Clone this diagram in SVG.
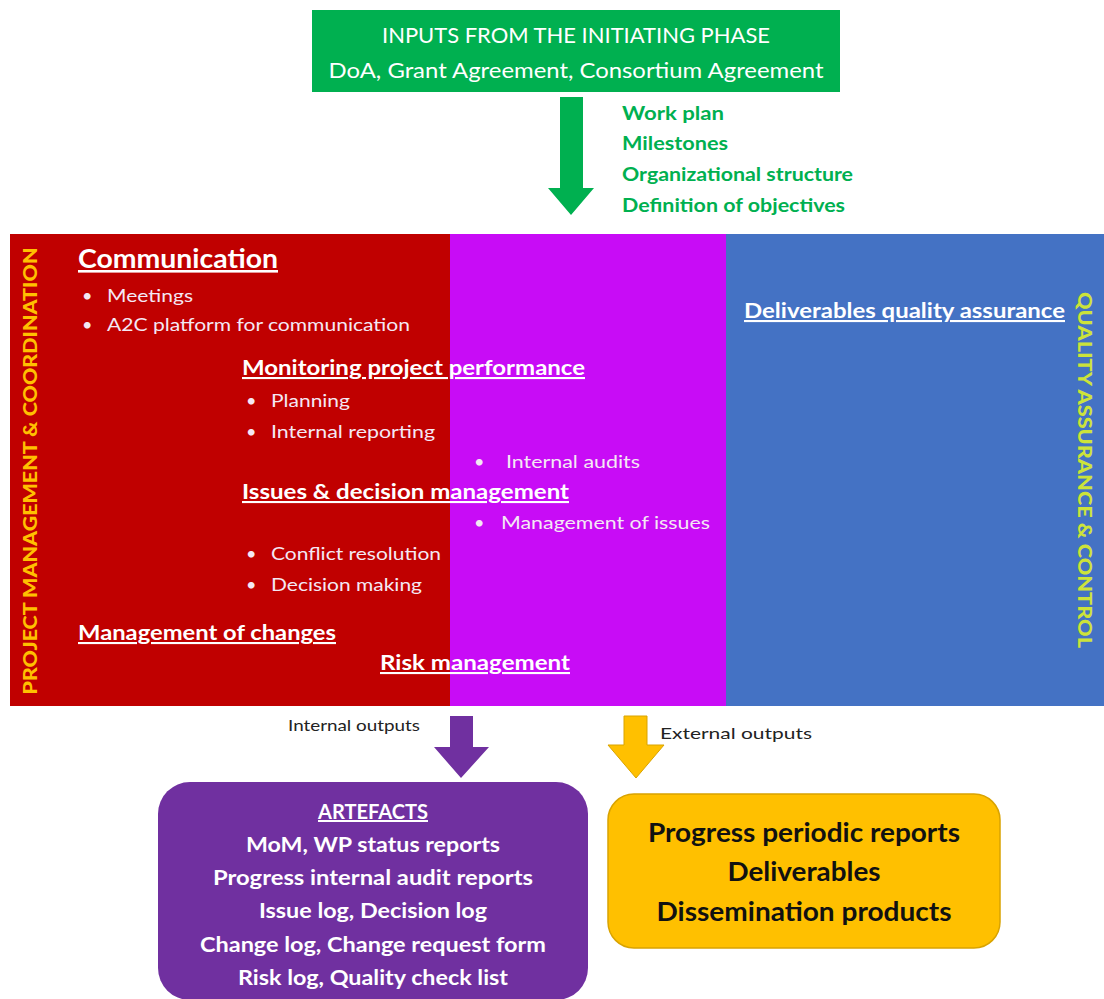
<svg xmlns="http://www.w3.org/2000/svg" width="1104" height="999" viewBox="0 0 1104 999">
<style>
text{font-family:Lato,"Liberation Sans",sans-serif;}
.w{fill:#ffffff;}
.b{font-weight:bold;}
.u{text-decoration:underline;}
.h{font-size:21px;font-weight:bold;fill:#ffffff;text-decoration:underline;}
.bl{font-size:18px;fill:#f4e8f4;}
.g{font-size:19px;font-weight:bold;fill:#00B050;}
.art{font-size:21px;font-weight:bold;fill:#ffffff;text-anchor:middle;}
.out{font-size:26px;font-weight:bold;fill:#111111;text-anchor:middle;}
.lbl{font-size:16px;fill:#222222;}
.vt{font-size:19px;font-weight:900;text-anchor:middle;}
</style>
<rect width="1104" height="999" fill="#ffffff"/>
<g id="inputs">
<rect x="312" y="10" width="528" height="82" fill="#00B050"/>
<text x="576" y="43" class="w" font-size="22" text-anchor="middle" textLength="388" lengthAdjust="spacingAndGlyphs">INPUTS FROM THE INITIATING PHASE</text>
<text x="576" y="78" class="w" font-size="22" text-anchor="middle" textLength="495" lengthAdjust="spacingAndGlyphs">DoA, Grant Agreement, Consortium Agreement</text>
</g>
<g id="input-items">
<text x="622" y="120" class="g" textLength="102" lengthAdjust="spacingAndGlyphs">Work plan</text>
<text x="622" y="150" class="g" textLength="106" lengthAdjust="spacingAndGlyphs">Milestones</text>
<text x="622" y="181" class="g" textLength="231" lengthAdjust="spacingAndGlyphs">Organizational structure</text>
<text x="622" y="212" class="g" textLength="223" lengthAdjust="spacingAndGlyphs">Definition of objectives</text>
</g>
<g id="panel">
<rect x="10" y="234" width="440" height="472" fill="#C00000"/>
<rect x="450" y="234" width="276" height="472" fill="#C80CF6"/>
<rect x="726" y="234" width="378" height="472" fill="#4472C4"/>
<text x="37" y="471" transform="rotate(-90 37 471)" class="vt" fill="#FFC000" textLength="447" lengthAdjust="spacingAndGlyphs">PROJECT MANAGEMENT &amp; COORDINATION</text>
<text x="1078" y="470" transform="rotate(90 1078 470)" class="vt" fill="#CCE33A" textLength="356" lengthAdjust="spacingAndGlyphs">QUALITY ASSURANCE &amp; CONTROL</text>
</g>
<g id="communication">
<text x="78" y="268" class="h" style="font-size:26px" textLength="200" lengthAdjust="spacingAndGlyphs">Communication</text>
<text x="82" y="302" class="bl">•</text><text x="107" y="302" class="bl" textLength="86" lengthAdjust="spacingAndGlyphs">Meetings</text>
<text x="82" y="331" class="bl">•</text><text x="107" y="331" class="bl" textLength="303" lengthAdjust="spacingAndGlyphs">A2C platform for communication</text>
</g>
<g id="monitoring">
<text x="242" y="375" class="h" textLength="343" lengthAdjust="spacingAndGlyphs">Monitoring project performance</text>
<text x="246" y="407" class="bl">•</text><text x="271" y="407" class="bl" textLength="79" lengthAdjust="spacingAndGlyphs">Planning</text>
<text x="246" y="438" class="bl">•</text><text x="271" y="438" class="bl" textLength="164" lengthAdjust="spacingAndGlyphs">Internal reporting</text>
<text x="474" y="468" class="bl">•</text><text x="506" y="468" class="bl" textLength="134" lengthAdjust="spacingAndGlyphs">Internal audits</text>
</g>
<g id="issues">
<text x="242" y="499" class="h" textLength="327" lengthAdjust="spacingAndGlyphs">Issues &amp; decision management</text>
<text x="474" y="529" class="bl">•</text><text x="501" y="529" class="bl" textLength="209" lengthAdjust="spacingAndGlyphs">Management of issues</text>
<text x="246" y="560" class="bl">•</text><text x="271" y="560" class="bl" textLength="170" lengthAdjust="spacingAndGlyphs">Conflict resolution</text>
<text x="246" y="591" class="bl">•</text><text x="271" y="591" class="bl" textLength="151" lengthAdjust="spacingAndGlyphs">Decision making</text>
</g>
<g id="changes">
<text x="78" y="640" class="h" textLength="258" lengthAdjust="spacingAndGlyphs">Management of changes</text>
</g>
<g id="risk">
<text x="380" y="670" class="h" textLength="190" lengthAdjust="spacingAndGlyphs">Risk management</text>
</g>
<g id="deliverables-qa">
<text x="744" y="318" class="h" textLength="321" lengthAdjust="spacingAndGlyphs">Deliverables quality assurance</text>
</g>
<g id="connectors">
<polygon points="560,97 583,97 583,188 594,188 571,215 548,188 560,188" fill="#00B050"/>
<polygon points="450,716 473,716 473,747 489,747 461,778 434,747 450,747" fill="#7030A0"/>
<polygon points="624,716 647,716 647,745 664,745 636,778 608,745 624,745" fill="#FFC000" stroke="#D9A300" stroke-width="1"/>
<text x="288" y="731" class="lbl" textLength="132" lengthAdjust="spacingAndGlyphs">Internal outputs</text>
<text x="660" y="739" class="lbl" textLength="152" lengthAdjust="spacingAndGlyphs">External outputs</text>
</g>
<g id="artefacts">
<rect x="158" y="782" width="430" height="218" rx="32" fill="#7030A0"/>
<text x="373" y="819" class="art u" style="font-size:20px" textLength="110" lengthAdjust="spacingAndGlyphs">ARTEFACTS</text>
<text x="373" y="852" class="art" textLength="254" lengthAdjust="spacingAndGlyphs">MoM, WP status reports</text>
<text x="373" y="885" class="art" textLength="320" lengthAdjust="spacingAndGlyphs">Progress internal audit reports</text>
<text x="373" y="918" class="art" textLength="228" lengthAdjust="spacingAndGlyphs">Issue log, Decision log</text>
<text x="373" y="952" class="art" textLength="346" lengthAdjust="spacingAndGlyphs">Change log, Change request form</text>
<text x="373" y="985" class="art" textLength="270" lengthAdjust="spacingAndGlyphs">Risk log, Quality check list</text>
</g>
<g id="external">
<rect x="608" y="794" width="392" height="154" rx="26" fill="#FFC000" stroke="#D9A300" stroke-width="1.5"/>
<text x="804" y="842" class="out" textLength="312" lengthAdjust="spacingAndGlyphs">Progress periodic reports</text>
<text x="804" y="881" class="out" textLength="153" lengthAdjust="spacingAndGlyphs">Deliverables</text>
<text x="804" y="921" class="out" textLength="295" lengthAdjust="spacingAndGlyphs">Dissemination products</text>
</g>
</svg>
